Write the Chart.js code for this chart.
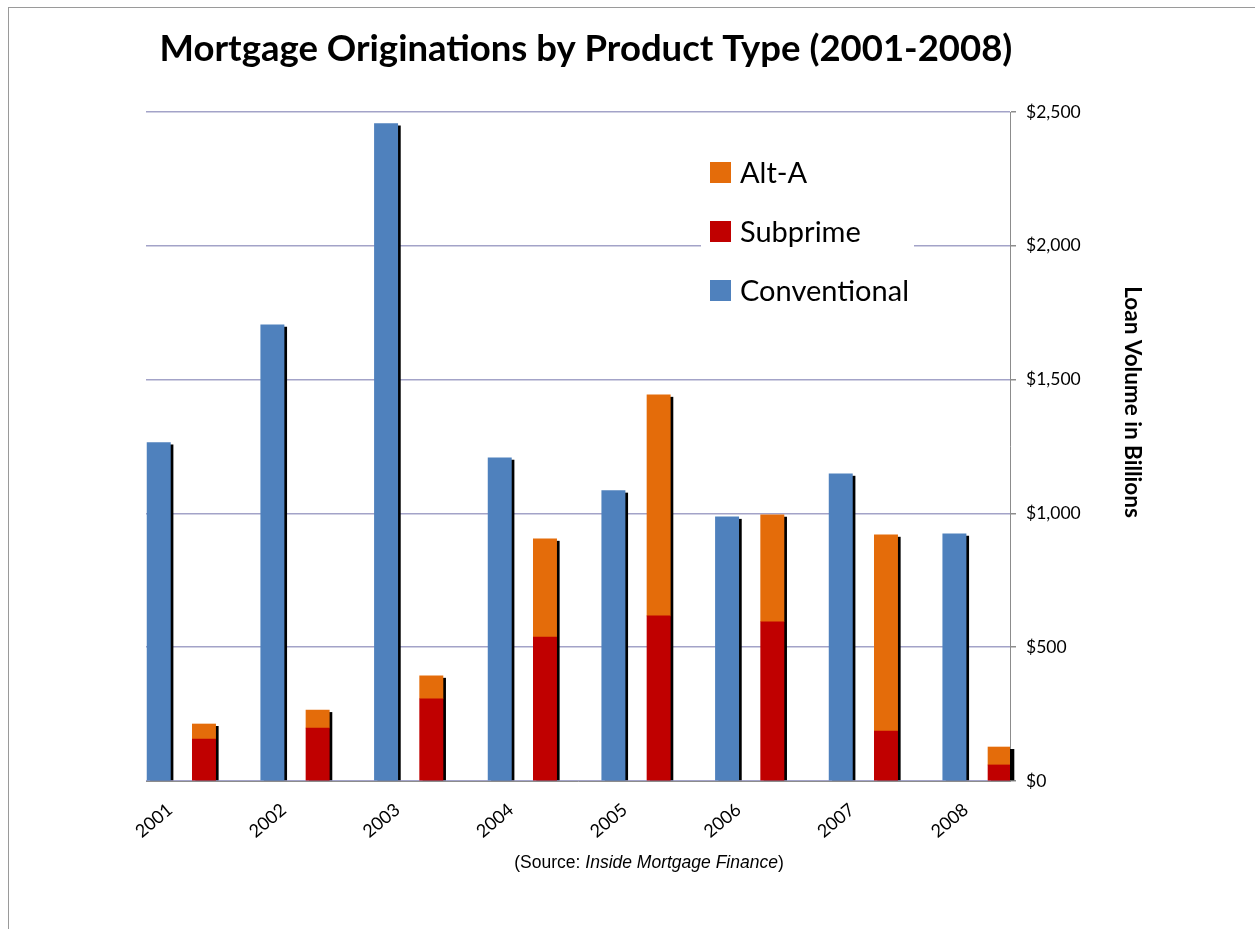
<!DOCTYPE html>
<html><head><meta charset="utf-8">
<script src="https://cdn.jsdelivr.net/npm/chart.js@4"></script>
<style>html,body{margin:0;padding:0;background:#fff}#wrap{position:relative;width:1255px;height:929px}</style>
</head><body><div id="wrap"><canvas id="c" width="1255" height="929"></canvas></div>
<script>
// ---- data ----
const years = [2001, 2002, 2003, 2004, 2005, 2006, 2007, 2008];
const conventional = [1265, 1705, 2457, 1208, 1085, 987, 1148, 924];
const subprime = [157, 198, 307, 538, 617, 595, 187, 60];
const altA = [56, 67, 86, 367, 826, 400, 733, 67];
const yTicks = [0, 500, 1000, 1500, 2000, 2500];
const chartTitle = 'Mortgage Originations by Product Type (2001-2008)';
const yTitle = 'Loan Volume in Billions';
const sourcePrefix = '(Source: ';
const sourceItalic = 'Inside Mortgage Finance';
const sourceSuffix = ')';

// ---- style ----
const BLUE = '#4F81BD', RED = '#C00000', ORANGE = '#E46C0A';
const GRID = '#A3A3C8', AXIS = '#8C8C8C';
const FONT = 'Lato, "Open Sans", sans-serif';
const SUB_OFFSET = 0.398;   // subprime/alt-A column sits right of conventional
const LABEL_SHIFT = 0.1;

const convData = years.map((y, i) => ({x: y, y: conventional[i]}));
const subData = years.map((y, i) => ({x: y + SUB_OFFSET, y: subprime[i]}));
const altData = years.map((y, i) => ({x: y + SUB_OFFSET, y: altA[i]}));

const shadowPlugin = {
  id: 'shadow',
  beforeDatasetsDraw(chart) {
    const ctx = chart.ctx, area = chart.chartArea;
    const cols = {};
    chart.data.datasets.forEach((ds, di) => {
      chart.getDatasetMeta(di).data.forEach(el => {
        const k = Math.round(el.x);
        const c = cols[k] || (cols[k] = {x: el.x, w: el.width, top: Infinity, base: -Infinity});
        c.top = Math.min(c.top, el.y, el.base);
        c.base = Math.max(c.base, el.y, el.base);
      });
    });
    ctx.save();
    ctx.beginPath();
    ctx.rect(area.left, area.top - 20, area.right - area.left + 20, area.bottom - area.top + 20);
    ctx.clip();
    ctx.fillStyle = '#000';
    Object.values(cols).forEach(c => {
      ctx.fillRect(c.x - c.w / 2 + 3, c.top + 2, c.w, c.base - c.top - 2);
    });
    ctx.restore();
  }
};

const decorPlugin = {
  id: 'decor',
  beforeDraw(chart) {
    const ctx = chart.ctx;
    ctx.save();
    ctx.fillStyle = '#fff';
    ctx.fillRect(0, 0, chart.width, chart.height);
    ctx.strokeStyle = '#9a9a9a';
    ctx.lineWidth = 1;
    ctx.strokeRect(8.5, 7.5, 3000, 3000);
    ctx.restore();
  },
  afterDatasetsDraw(chart) {
    const ctx = chart.ctx;
    ctx.save();
    // legend box
    ctx.fillStyle = '#fff';
    ctx.fillRect(701, 140, 213, 180);
    const items = chart.data.datasets.slice().reverse();
    ctx.font = '29px ' + FONT;
    ctx.textBaseline = 'middle';
    ctx.textAlign = 'left';
    items.forEach((ds, i) => {
      const cy = 172.5 + i * 59;
      ctx.fillStyle = ds.backgroundColor;
      ctx.fillRect(710, cy - 10.5, 21, 21);
      ctx.fillStyle = '#000';
      ctx.fillText(ds.label, 740, cy + 1);
    });
    // title
    ctx.font = 'bold 36.5px ' + FONT;
    ctx.textAlign = 'center';
    ctx.textBaseline = 'alphabetic';
    ctx.fillStyle = '#000';
    ctx.fillText(chartTitle, 586, 61);
    // y axis title (rotated clockwise)
    ctx.save();
    ctx.translate(1132, 402);
    ctx.rotate(Math.PI / 2);
    ctx.font = 'bold 22.5px ' + FONT;
    ctx.textBaseline = 'middle';
    ctx.fillText(yTitle, 0, 0);
    ctx.restore();
    // source line
    ctx.textAlign = 'left';
    ctx.textBaseline = 'alphabetic';
    const f1 = '17.5px "Liberation Sans", Arial, sans-serif';
    const f2 = 'italic 17.5px "Liberation Sans", Arial, sans-serif';
    ctx.font = f1; const w1 = ctx.measureText(sourcePrefix).width;
    const w3 = ctx.measureText(sourceSuffix).width;
    ctx.font = f2; const w2 = ctx.measureText(sourceItalic).width;
    let sx = 649 - (w1 + w2 + w3) / 2;
    ctx.font = f1; ctx.fillText(sourcePrefix, sx, 868);
    ctx.font = f2; ctx.fillText(sourceItalic, sx + w1, 868);
    ctx.font = f1; ctx.fillText(sourceSuffix, sx + w1 + w2, 868);
    ctx.restore();
  }
};

new Chart(document.getElementById('c'), {
  type: 'bar',
  data: {
    datasets: [
      {label: 'Conventional', data: convData, backgroundColor: BLUE, stack: 'c'},
      {label: 'Subprime', data: subData, backgroundColor: RED, stack: 's'},
      {label: 'Alt-A', data: altData, backgroundColor: ORANGE, stack: 's'}
    ]
  },
  options: {
    responsive: false,
    animation: false,
    devicePixelRatio: 1,
    layout: {padding: {left: 146, top: 112, right: 145, bottom: 88}},
    datasets: {bar: {grouped: false, barThickness: 23.3, borderWidth: 0}},
    plugins: {legend: {display: false}, tooltip: {enabled: false}, title: {display: false}},
    scales: {
      x: {
        type: 'linear',
        offset: false,
        min: years[0] - 0.112,
        max: years[years.length - 1] + 0.489,
        grid: {display: false},
        border: {display: true, color: AXIS, width: 1},
        ticks: {
          autoSkip: false, minRotation: 40, maxRotation: 40, padding: 10,
          color: '#000', font: {family: FONT, size: 18},
          callback: (v, i) => String(years[i])
        },
        afterBuildTicks: s => { s.ticks = years.map(y => ({value: y + LABEL_SHIFT})); },
        afterFit: s => { s.height = 60; s.paddingLeft = 0; s.paddingRight = 0; }
      },
      y: {
        position: 'right',
        stacked: true,
        min: 0, max: 2500,
        grid: {color: GRID, lineWidth: 1.5, tickLength: 6, tickColor: AXIS},
        border: {display: true, color: AXIS, width: 1},
        ticks: {
          padding: 10, color: '#000', font: {family: FONT, size: 17.5},
          callback: v => '$' + v.toLocaleString('en-US')
        },
        afterBuildTicks: s => { s.ticks = yTicks.map(v => ({value: v})); },
        afterFit: s => { s.width = 100; s.paddingTop = 0; s.paddingBottom = 0; }
      }
    }
  },
  plugins: [decorPlugin, shadowPlugin]
});
</script>
</body></html>
